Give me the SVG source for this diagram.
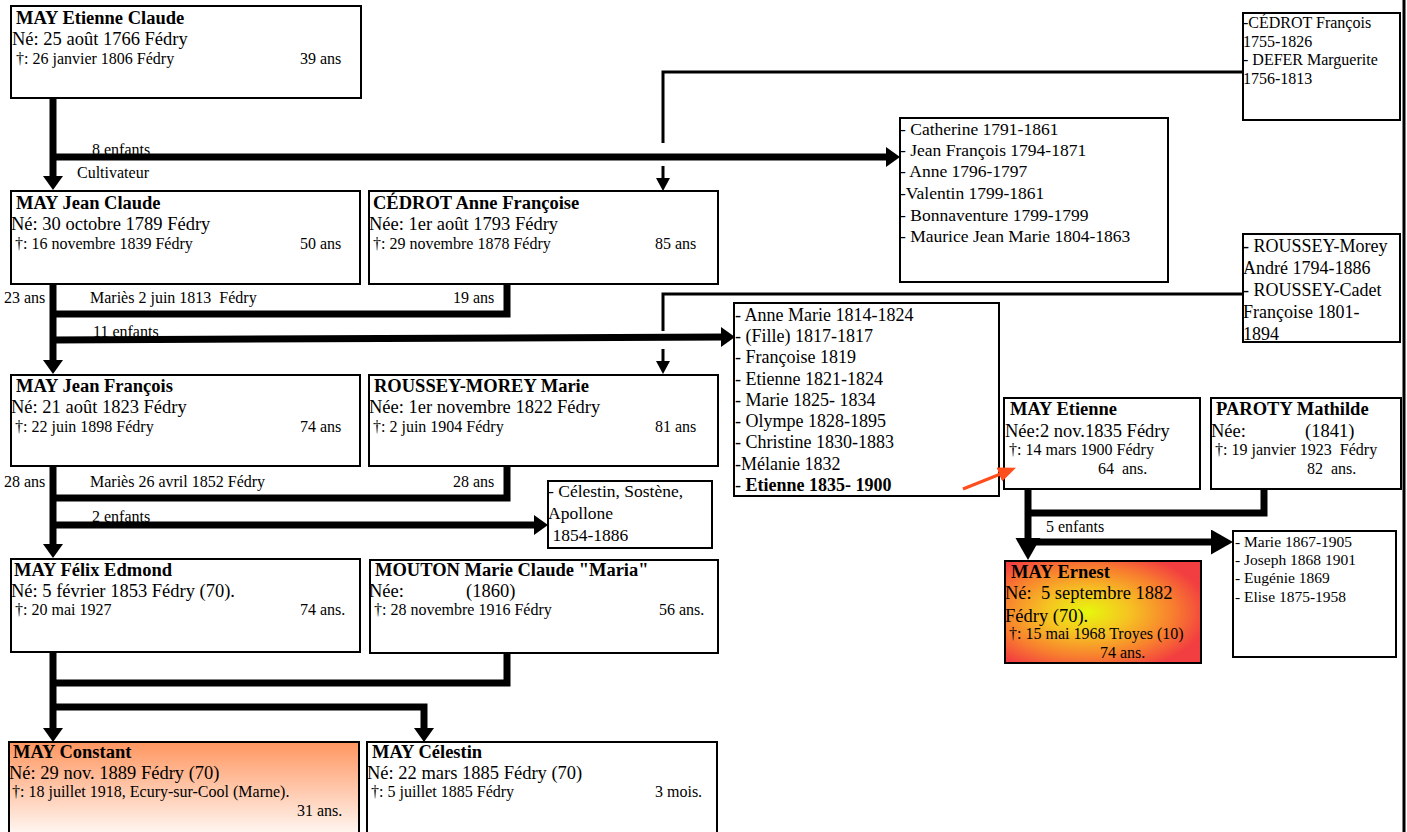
<svg xmlns="http://www.w3.org/2000/svg" width="1407" height="832" viewBox="0 0 1407 832">
<style>
.box{fill:#fff;stroke:#000;stroke-width:2}
text{font-family:"Liberation Serif","Times New Roman",serif;fill:#000}
.ti{font-weight:bold;font-size:18.5px}
.bo{font-size:18.5px}
.de{font-size:16px}
.sm{font-size:16px}
.li{font-size:17.5px}
.l2{font-size:18px}
.lc{font-size:16px}
.ls{font-size:15.5px}
.thick{fill:none;stroke:#000;stroke-width:7;stroke-linejoin:miter}
.thin{fill:none;stroke:#000;stroke-width:3}
</style>
<defs>
<marker id="ah" markerUnits="userSpaceOnUse" markerWidth="16" markerHeight="22" refX="4" refY="10" orient="auto"><path d="M0,0 L14,10 L0,20 z" fill="#000"/></marker>
<marker id="as" markerUnits="userSpaceOnUse" markerWidth="14" markerHeight="14" refX="6" refY="7" orient="auto"><path d="M0,0 L13,7 L0,14 z" fill="#000"/></marker>
<marker id="ab" markerUnits="userSpaceOnUse" markerWidth="24" markerHeight="26" refX="10" refY="12.5" orient="auto"><path d="M0,0 L22,12.5 L0,25 z" fill="#000"/></marker>
<marker id="ar" markerUnits="userSpaceOnUse" markerWidth="20" markerHeight="16" refX="4" refY="7.5" orient="auto"><path d="M0,0 L18,7.5 L0,15 z" fill="#ff4d1c"/></marker>
<linearGradient id="gConst" x1="0" y1="0" x2="0" y2="1"><stop offset="0" stop-color="#ff9660"/><stop offset="1" stop-color="#ffffff"/></linearGradient>
<radialGradient id="gErn" cx="0.42" cy="0.5" r="0.62"><stop offset="0" stop-color="#e6f80c"/><stop offset="0.35" stop-color="#f6c222"/><stop offset="0.7" stop-color="#f8802e"/><stop offset="1" stop-color="#f23e40"/></radialGradient>
</defs>
<rect width="1407" height="832" fill="#fff"/>
<line x1="1404" y1="0" x2="1404" y2="832" stroke="#000" stroke-width="3"/>

<g id="connectors">
<path class="thick" d="M53,99 V180" marker-end="url(#ah)"/>
<path class="thick" d="M53,284 V364" marker-end="url(#ah)"/>
<path class="thick" d="M53,466 V548" marker-end="url(#ah)"/>
<path class="thick" d="M53,652 V732" marker-end="url(#ah)"/>
<path class="thick" d="M53,157 H890" marker-end="url(#ah)"/>
<path class="thick" d="M53,314 H507 V284"/>
<path class="thick" d="M53,340 L725,337" marker-end="url(#ah)"/>
<path class="thick" d="M53,498 H507 V466"/>
<path class="thick" d="M53,525 H538" marker-end="url(#ah)"/>
<path class="thick" d="M53,683 H507 V652"/>
<path class="thick" d="M53,707 H424 V732" marker-end="url(#ah)"/>
<path class="thin" d="M1243,72 H663 V143"/>
<path class="thin" d="M663,166 V184" marker-end="url(#as)"/>
<path class="thin" d="M1243,294 H663 V331"/>
<path class="thin" d="M663,349 V367" marker-end="url(#as)"/>
<path class="thick" d="M1028,489 V548" marker-end="url(#ab)"/>
<path class="thick" d="M1028,513 H1264 V489"/>
<path class="thick" d="M1028,542 H1221" marker-end="url(#ab)"/>
</g>

<g id="labels">
<text class="sm" x="92" y="155">8 enfants</text>
<text class="sm" x="77" y="178">Cultivateur</text>
<text class="sm" x="4" y="303">23 ans</text>
<text class="sm" x="90" y="303">Mariès 2 juin 1813 &#160;Fédry</text>
<text class="sm" x="453" y="303">19 ans</text>
<text class="sm" x="93" y="337">11 enfants</text>
<text class="sm" x="4" y="487">28 ans</text>
<text class="sm" x="90" y="487">Mariès 26 avril 1852 Fédry</text>
<text class="sm" x="453" y="487">28 ans</text>
<text class="sm" x="92" y="522">2 enfants</text>
<text class="sm" x="1046" y="532">5 enfants</text>
</g>

<g id="n-etienne-claude">
<rect class="box" x="11" y="6" width="350" height="92"/>
<text class="ti" x="16" y="24">MAY Etienne Claude</text>
<text class="bo" x="12" y="45">Né: 25 août 1766 Fédry</text>
<text class="de" x="16" y="64">†: 26 janvier 1806 Fédry</text>
<text class="de" x="300" y="64">39 ans</text>
</g>

<g id="n-jean-claude">
<rect class="box" x="11" y="191" width="349" height="93"/>
<text class="ti" x="16" y="209">MAY Jean Claude</text>
<text class="bo" x="11" y="230">Né: 30 octobre 1789 Fédry</text>
<text class="de" x="15" y="249">†: 16 novembre 1839 Fédry</text>
<text class="de" x="300" y="249">50 ans</text>
</g>

<g id="n-cedrot-anne">
<rect class="box" x="369" y="191" width="349" height="93"/>
<text class="ti" x="373" y="209">CÉDROT Anne Françoise</text>
<text class="bo" x="369" y="230">Née: 1er août 1793 Fédry</text>
<text class="de" x="373" y="249">†: 29 novembre 1878 Fédry</text>
<text class="de" x="655" y="249">85 ans</text>
</g>

<g id="n-children1">
<rect class="box" x="900" y="118" width="268" height="164"/>
<text class="li" x="900" y="135">- Catherine 1791-1861</text>
<text class="li" x="900" y="156">- Jean François 1794-1871</text>
<text class="li" x="900" y="177">- Anne 1796-1797</text>
<text class="li" x="900" y="199">-Valentin 1799-1861</text>
<text class="li" x="900" y="221">- Bonnaventure 1799-1799</text>
<text class="li" x="900" y="242">- Maurice Jean Marie 1804-1863</text>
</g>

<g id="n-cedrot-parents">
<rect class="box" x="1243" y="13" width="157" height="107"/>
<text class="lc" x="1243" y="28">-CÉDROT François</text>
<text class="lc" x="1243" y="47">1755-1826</text>
<text class="lc" x="1243" y="65">- DEFER Marguerite</text>
<text class="lc" x="1243" y="84">1756-1813</text>
</g>

<g id="n-roussey-parents">
<rect class="box" x="1243" y="234" width="157" height="108"/>
<text class="l2" x="1243" y="252">- ROUSSEY-Morey</text>
<text class="l2" x="1243" y="274">André 1794-1886</text>
<text class="l2" x="1243" y="296">- ROUSSEY-Cadet</text>
<text class="l2" x="1243" y="318">Françoise 1801-</text>
<text class="l2" x="1243" y="340">1894</text>
</g>

<g id="n-children2">
<rect class="box" x="734" y="303" width="265" height="193"/>
<text class="l2" x="735" y="321">- Anne Marie 1814-1824</text>
<text class="l2" x="735" y="342">- (Fille) 1817-1817</text>
<text class="l2" x="735" y="363">- Françoise 1819</text>
<text class="l2" x="735" y="385">- Etienne 1821-1824</text>
<text class="l2" x="735" y="406">- Marie 1825- 1834</text>
<text class="l2" x="735" y="427">- Olympe 1828-1895</text>
<text class="l2" x="735" y="448">- Christine 1830-1883</text>
<text class="l2" x="735" y="470">-Mélanie 1832</text>
<text class="l2" x="735" y="491">- <tspan font-weight="bold">Etienne 1835- 1900</tspan></text>
</g>

<g id="n-jean-francois">
<rect class="box" x="11" y="375" width="349" height="91"/>
<text class="ti" x="16" y="392">MAY Jean François</text>
<text class="bo" x="11" y="413">Né: 21 août 1823 Fédry</text>
<text class="de" x="15" y="432">†: 22 juin 1898 Fédry</text>
<text class="de" x="300" y="432">74 ans</text>
</g>

<g id="n-roussey-marie">
<rect class="box" x="369" y="375" width="349" height="91"/>
<text class="ti" x="374" y="392">ROUSSEY-MOREY Marie</text>
<text class="bo" x="369" y="413">Née: 1er novembre 1822 Fédry</text>
<text class="de" x="373" y="432">†: 2 juin 1904 Fédry</text>
<text class="de" x="655" y="432">81 ans</text>
</g>

<g id="n-children3">
<rect class="box" x="548" y="481" width="164" height="67"/>
<text class="li" x="548" y="497">- Célestin, Sostène,</text>
<text class="li" x="548" y="519">Apollone</text>
<text class="li" x="548" y="541">&#160;1854-1886</text>
</g>

<g id="n-felix">
<rect class="box" x="11" y="559" width="349" height="93"/>
<text class="ti" x="14" y="576">MAY Félix Edmond</text>
<text class="bo" x="11" y="597">Né: 5 février 1853 Fédry (70).</text>
<text class="de" x="15" y="615">†: 20 mai 1927</text>
<text class="de" x="300" y="615">74 ans.</text>
</g>

<g id="n-mouton">
<rect class="box" x="370" y="560" width="348" height="93"/>
<text class="ti" x="375" y="576">MOUTON Marie Claude "Maria"</text>
<text class="bo" x="369" y="597">Née:</text>
<text class="bo" x="466" y="597">(1860)</text>
<text class="de" x="374" y="615">†: 28 novembre 1916 Fédry</text>
<text class="de" x="659" y="615">56 ans.</text>
</g>

<g id="n-constant">
<rect x="9" y="742" width="350" height="100" fill="url(#gConst)" stroke="#000" stroke-width="2"/>
<text class="ti" x="13" y="758">MAY Constant</text>
<text class="bo" x="9" y="779">Né: 29 nov. 1889 Fédry (70)</text>
<text class="de" x="12" y="797">†: 18 juillet 1918, Ecury-sur-Cool (Marne).</text>
<text class="de" x="297" y="816">31 ans.</text>
</g>

<g id="n-celestin">
<rect class="box" x="367" y="742" width="350" height="100"/>
<text class="ti" x="372" y="758">MAY Célestin</text>
<text class="bo" x="367" y="779">Né: 22 mars 1885 Fédry (70)</text>
<text class="de" x="371" y="797">†: 5 juillet 1885 Fédry</text>
<text class="de" x="655" y="797">3 mois.</text>
</g>

<g id="n-etienne">
<rect class="box" x="1004" y="398" width="196" height="91"/>
<text class="ti" x="1010" y="415">MAY Etienne</text>
<text class="bo" x="1005" y="437">Née:2 nov.1835 Fédry</text>
<text class="de" x="1009" y="455">†: 14 mars 1900 Fédry</text>
<text class="de" x="1098" y="474">64 &#160;ans.</text>
</g>

<g id="n-paroty">
<rect class="box" x="1211" y="398" width="190" height="91"/>
<text class="ti" x="1216" y="415">PAROTY Mathilde</text>
<text class="bo" x="1211" y="437">Née:</text>
<text class="bo" x="1305" y="437">(1841)</text>
<text class="de" x="1215" y="455">†: 19 janvier 1923 &#160;Fédry</text>
<text class="de" x="1307" y="474">82 &#160;ans.</text>
</g>

<g id="n-ernest">
<rect x="1005" y="561" width="196" height="102" fill="url(#gErn)" stroke="#000" stroke-width="2"/>
<text class="ti" x="1011" y="578">MAY Ernest</text>
<text class="bo" x="1005" y="599">Né: &#160;5 septembre 1882</text>
<text class="bo" x="1005" y="622">Fédry (70).</text>
<text class="de" x="1009" y="639">†: 15 mai 1968 Troyes (10)</text>
<text class="de" x="1100" y="658">74 ans.</text>
</g>

<g id="n-children4">
<rect class="box" x="1233" y="531" width="163" height="126"/>
<text class="ls" x="1235" y="547">- Marie 1867-1905</text>
<text class="ls" x="1235" y="565">- Joseph 1868 1901</text>
<text class="ls" x="1235" y="583">- Eugénie 1869</text>
<text class="ls" x="1235" y="602">- Elise 1875-1958</text>
</g>

<g id="pointer">
<path d="M963,489 L1003,473" stroke="#ff4d1c" stroke-width="3" fill="none" marker-end="url(#ar)"/>
</g>
</svg>
